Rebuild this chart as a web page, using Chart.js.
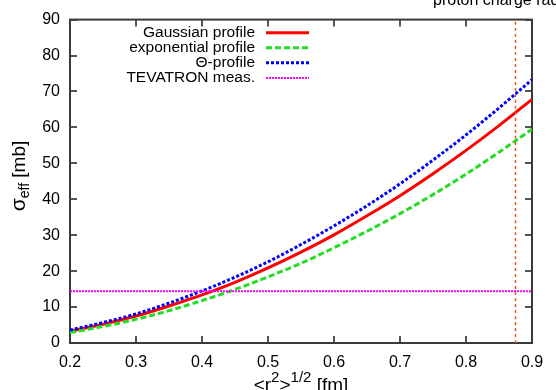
<!DOCTYPE html>
<html>
<head>
<meta charset="utf-8">
<script src="https://cdn.jsdelivr.net/npm/chart.js@4.4.0/dist/chart.umd.min.js"></script>
<style>
  html, body { margin: 0; padding: 0; background: #fff; }
</style>
</head>
<body>
<canvas id="sigmaChart" width="556" height="390"></canvas>
<script>
// values
const radius = [0.2, 0.25, 0.3, 0.35, 0.4, 0.45, 0.5, 0.55, 0.6, 0.65, 0.7, 0.75, 0.8, 0.85, 0.9];
const gaussian = [3.3, 5.2, 7.5, 10.3, 13.4, 16.9, 20.9, 25.3, 30.1, 35.4, 41.0, 47.1, 53.6, 60.5, 67.8];
const exponential = [2.9, 4.6, 6.6, 9.0, 11.8, 14.9, 18.4, 22.2, 26.5, 31.1, 36.0, 41.3, 47.0, 53.1, 59.5];
const thetaProfile = [3.6, 5.7, 8.1, 11.1, 14.5, 18.3, 22.6, 27.4, 32.6, 38.2, 44.3, 50.9, 57.9, 65.4, 73.3];
const tevatron = [14.4, 14.4];
const tevatronRange = [0.2, 0.9];
const protonRadius = [0.875, 0.875];
const protonRange = [0, 90];
const xTicks = [0.2, 0.3, 0.4, 0.5, 0.6, 0.7, 0.8, 0.9];
const yTicks = [0, 10, 20, 30, 40, 50, 60, 70, 80, 90];

const FONT = '"Liberation Sans", Arial, Helvetica, sans-serif';
const ctx = document.getElementById('sigmaChart');

const toPoints = (xs, ys) => xs.map((x, i) => ({ x: x, y: ys[i] }));

const frame = {
    id: 'frame',
    beforeDatasetsDraw(chart) {
        const { ctx, chartArea: a, scales } = chart;
        ctx.save();
        ctx.strokeStyle = '#555';
        ctx.lineWidth = 2;
        const t = 7;
        ctx.beginPath();
        xTicks.forEach(v => {
            const px = Math.round(scales.x.getPixelForValue(v));
            ctx.moveTo(px, a.bottom); ctx.lineTo(px, a.bottom - t);
            ctx.moveTo(px, a.top); ctx.lineTo(px, a.top + t);
        });
        yTicks.forEach(v => {
            const py = Math.round(scales.y.getPixelForValue(v));
            ctx.moveTo(a.left, py); ctx.lineTo(a.left + t, py);
            ctx.moveTo(a.right, py); ctx.lineTo(a.right - t, py);
        });
        ctx.stroke();
        ctx.strokeStyle = '#3a3a3a';
        ctx.strokeRect(a.left, a.top, a.right - a.left, a.bottom - a.top);
        ctx.restore();
    },
    afterDraw(chart) {
        const { ctx, chartArea: a } = chart;
        ctx.save();
        ctx.fillStyle = '#000';

        // legend
        ctx.font = '15.5px ' + FONT;
        ctx.textAlign = 'right';
        ctx.textBaseline = 'middle';
        const rows = [32.7, 47.7, 62.7, 78];
        chart.data.datasets.slice(0, 4).forEach((ds, i) => {
            ctx.fillText(ds.label, 255, rows[i]);
            ctx.save();
            ctx.strokeStyle = ds.borderColor;
            ctx.lineWidth = ds.borderWidth;
            ctx.setLineDash(ds.borderDash || []);
            ctx.beginPath();
            ctx.moveTo(266, rows[i]);
            ctx.lineTo(309, rows[i]);
            ctx.stroke();
            ctx.restore();
        });

        // label of the vertical line, cut at the top edge
        ctx.textAlign = 'left';
        ctx.textBaseline = 'alphabetic';
        ctx.font = '16px ' + FONT;
        ctx.fillText('proton charge radius', 433, 5);

        // x title  <r^2>^1/2 [fm]
        const big = '19px ' + FONT, small = '15px ' + FONT;
        const parts = [['<r', big, 0], ['2', small, -9], ['>', big, 0], ['1/2', small, -9], [' [fm]', big, 0]];
        let w = 0;
        parts.forEach(p => { ctx.font = p[1]; w += ctx.measureText(p[0]).width; });
        let x = (a.left + a.right) / 2 - w / 2;
        parts.forEach(p => {
            ctx.font = p[1];
            ctx.fillText(p[0], x, 391 + p[2]);
            x += ctx.measureText(p[0]).width;
        });

        // y title  sigma_eff [mb]
        ctx.translate(25, 176);
        ctx.rotate(-Math.PI / 2);
        const yparts = [['\u03c3', '21px ' + FONT, 0], ['eff', '14px ' + FONT, 4], [' [mb]', '19px ' + FONT, 0]];
        w = 0;
        yparts.forEach(p => { ctx.font = p[1]; w += ctx.measureText(p[0]).width; });
        x = -w / 2;
        yparts.forEach(p => {
            ctx.font = p[1];
            ctx.fillText(p[0], x, p[2]);
            x += ctx.measureText(p[0]).width;
        });
        ctx.restore();
    }
};

const sigmaChart = new Chart(ctx, {
    type: 'line',
    data: {
        datasets: [{
            label: 'Gaussian profile',
            data: toPoints(radius, gaussian),
            borderColor: '#ff0000',
            borderWidth: 3,
            order: 5
        }, {
            label: 'exponential profile',
            data: toPoints(radius, exponential),
            borderColor: '#22dd22',
            borderWidth: 3,
            borderDash: [6, 3],
            order: 4
        }, {
            label: '\u0398-profile',
            data: toPoints(radius, thetaProfile),
            borderColor: '#0000ff',
            borderWidth: 3,
            borderDash: [3, 2],
            order: 3
        }, {
            label: 'TEVATRON meas.',
            data: toPoints(tevatronRange, tevatron),
            borderColor: '#ff00ff',
            borderWidth: 2,
            borderDash: [2, 1],
            order: 2
        }, {
            label: 'proton charge radius',
            data: toPoints(protonRadius, protonRange),
            borderColor: '#e8581c',
            borderWidth: 1.5,
            borderDash: [3, 3],
            order: 1
        }]
    },
    options: {
        responsive: false,
        animation: false,
        devicePixelRatio: 1,
        layout: { padding: { top: 17, right: 24, left: 0, bottom: 0 } },
        elements: {
            point: { radius: 0 },
            line: { cubicInterpolationMode: 'monotone', borderCapStyle: 'butt' }
        },
        plugins: { legend: { display: false }, tooltip: { enabled: false } },
        scales: {
            x: {
                type: 'linear',
                min: 0.2,
                max: 0.9,
                afterBuildTicks: s => { s.ticks = xTicks.map(v => ({ value: v })); },
                afterFit: s => { s.height = 47; },
                grid: { display: false, drawTicks: false },
                border: { display: false },
                ticks: {
                    autoSkip: false,
                    maxRotation: 0,
                    padding: 10,
                    color: '#000',
                    font: { family: FONT, size: 16 },
                    callback: v => v.toFixed(1)
                }
            },
            y: {
                min: 0,
                max: 90,
                afterBuildTicks: s => { s.ticks = yTicks.map(v => ({ value: v })); },
                afterFit: s => { s.width = 70; },
                grid: { display: false, drawTicks: false },
                border: { display: false },
                ticks: {
                    padding: 10,
                    color: '#000',
                    font: { family: FONT, size: 16 }
                }
            }
        }
    },
    plugins: [frame]
});
</script>
</body>
</html>
